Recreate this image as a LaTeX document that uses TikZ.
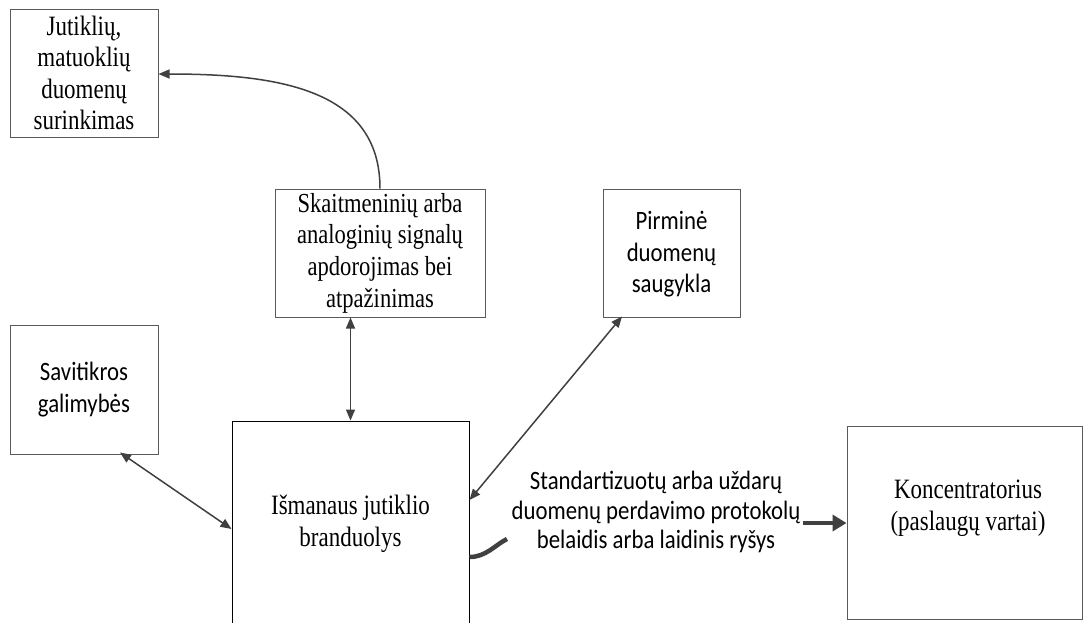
\documentclass[tikz,border=0pt]{standalone}
\usepackage{fontspec}
\setmainfont{Liberation Serif}[FakeStretch=0.82]
\newfontfamily\calfont{Carlito}[FakeStretch=0.86]
\usetikzlibrary{arrows.meta,calc}
\definecolor{edge}{HTML}{5A5A5A}
\definecolor{arrowc}{HTML}{404040}
\tikzset{
  box/.style={draw=edge, line width=1pt, rectangle, inner sep=0pt, align=center, text=black},
  sertext/.style={font=\fontsize{28}{31.5}\selectfont},
  caltext/.style={font=\calfont\fontsize{26.5}{31.5}\selectfont},
  labtext/.style={font=\calfont\fontsize{26.5}{29.5}\selectfont},
  link/.style={draw=arrowc, line width=1.5pt},
  tip/.style={-{Triangle[length=11pt,width=9pt]}},
  dtip/.style={{Triangle[length=11pt,width=9pt]}-{Triangle[length=11pt,width=9pt]}},
  thick link/.style={draw=arrowc, line width=4.5pt},
}
\begin{document}
\begin{tikzpicture}[x=1pt,y=-1pt]
\useasboundingbox (0,0) rectangle (1083,622);
\clip (0,0) rectangle (1083,622);
\fill[white] (0,0) rectangle (1083,622);
% boxes
\node[box, sertext, minimum width=148pt, minimum height=128pt] (A) at (84,73)
  {Jutiklių,\\matuoklių\\duomenų\\surinkimas};
\node[box, font=\fontsize{27.5}{31.7}\selectfont, minimum width=210pt, minimum height=128pt] (S) at (380,253)
  {Skaitmeninių arba\\analoginių signalų\\apdorojimas bei\\atpažinimas};
\node[box, caltext, minimum width=137pt, minimum height=128pt, text depth=2pt] (P) at (671.5,253)
  {Pirminė\\duomenų\\saugykla};
\node[box, caltext, minimum width=148pt, minimum height=129pt] (Sav) at (84,389.5)
  {Savitikros\\galimybės};
\node[box, draw=black, sertext, minimum width=237pt, minimum height=206pt] (core) at (350.5,524)
  {Išmanaus jutiklio\\branduolys};
\node[box, minimum width=235pt, minimum height=193pt] (K) at (964.5,522.5) {};
\node[sertext, align=center, inner sep=0pt] (Klab) at (968,508)
  {Koncentratorius\\(paslaugų vartai)};
\node[labtext, align=center, inner sep=0pt] (L) at (656,512)
  {Standartizuotų arba uždarų\\duomenų perdavimo protokolų\\belaidis arba laidinis ryšys};
% connectors
\draw[link, tip] (S.north) .. controls (380,90) and (280,74) .. (A.east |- 0,74);
\draw[link, dtip] (S.south -| core.north) -- (core.north);
\draw[link, dtip] ($(Sav.south)+(36,-2)$) -- ($(core.west)+(0,5)$);
\draw[link, dtip] ($(P.south)+(-49.5,-1)$) -- ($(core.east)+(0,-24)$);
\coordinate (w) at (507,539);
\draw[thick link] ($(core.east)+(0,33)$) .. controls (486,557) and (495,545) .. (w);
\coordinate (t) at (803,523);
\draw[thick link, -{Triangle[length=14pt,width=16pt]}] (t) -- (K.west |- t);
\end{tikzpicture}
\end{document}
